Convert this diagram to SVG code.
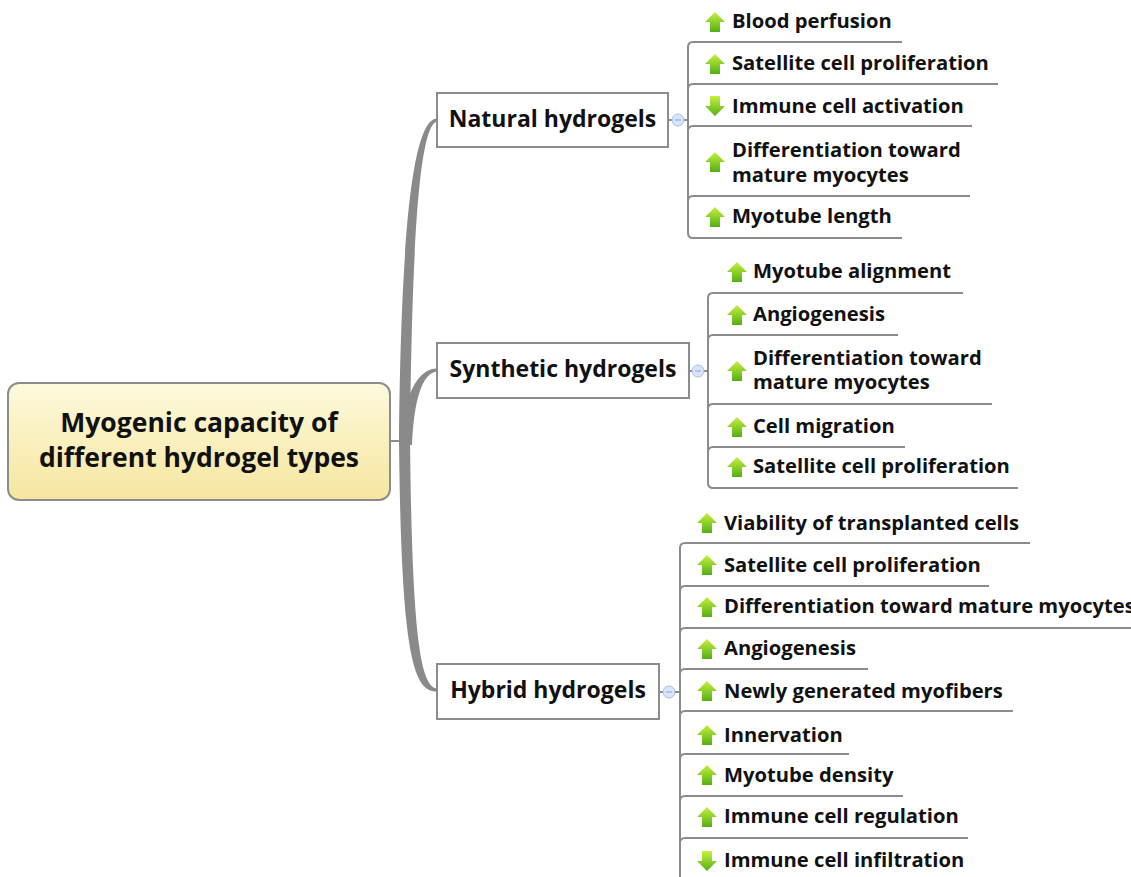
<svg xmlns="http://www.w3.org/2000/svg" width="1131" height="877" viewBox="0 0 1131 877">
<defs>
<linearGradient id="gCentral" x1="0" y1="0" x2="0" y2="1">
<stop offset="0" stop-color="#fdf9dc"/>
<stop offset="1" stop-color="#f6e6a0"/>
</linearGradient>
<linearGradient id="gArrow" x1="0" y1="0" x2="0" y2="1">
<stop offset="0" stop-color="#c6f040"/>
<stop offset="1" stop-color="#52b012"/>
</linearGradient>
<symbol id="up" viewBox="0 0 20 20">
<polygon points="10,0 20,10 15,10 15,20 5,20 5,10 0,10" fill="url(#gArrow)"/>
</symbol>
<symbol id="down" viewBox="0 0 20 20">
<polygon points="5,0 15,0 15,10 20,10 10,20 0,10 5,10" fill="url(#gArrow)"/>
</symbol>
</defs>
<style>
.box{fill:#ffffff;stroke:#8c8c8c;stroke-width:2}
.central{fill:url(#gCentral);stroke:#8c8c8c;stroke-width:2}
.ttl{font-family:"Open Sans","Liberation Sans",sans-serif;font-weight:bold;font-size:26.5px;fill:#111}
.lbl{font-family:"Open Sans","Liberation Sans",sans-serif;font-weight:bold;font-size:23px;fill:#111}
.leaf{font-family:"Open Sans","Liberation Sans",sans-serif;font-weight:bold;font-size:20.2px;fill:#111}
.ln{fill:none;stroke:#8c8c8c;stroke-width:2}
.trunk{fill:#8a8a8a;stroke:none}
.col{fill:#d8e5f8;stroke:#a6bfe8;stroke-width:1}
.colm{stroke:#88a6d6;stroke-width:1}
</style>

<g id="connectors">
<line class="ln" x1="390" y1="441" x2="402" y2="441"/>
<path class="trunk" d="M399,445 C401,220 414,119 437,118.5 L437,121.5 C421,125 412,220 410,445 Z"/>
<path class="trunk" d="M401,445 C403,395 418,368.5 437,368.5 L437,371.5 C422,373 414,400 412,445 Z"/>
<path class="trunk" d="M399,437 C401,660 414,691.5 437,691.5 L437,688.5 C421,686 412,640 410,437 Z"/>
<line class="ln" x1="668" y1="120" x2="688" y2="120"/>
<path class="ln" d="M902,42 L693,42 Q688,42 688,47 L688,233 Q688,238 693,238 L902,238"/>
<path class="ln" d="M688,89 Q688,84 693,84 L998,84"/>
<path class="ln" d="M688,131 Q688,126 693,126 L972,126"/>
<path class="ln" d="M688,201 Q688,196 693,196 L970,196"/>
<circle class="col" cx="678" cy="120" r="6"/>
<line class="colm" x1="675" y1="120" x2="681" y2="120"/>
<line class="ln" x1="689" y1="371" x2="708" y2="371"/>
<path class="ln" d="M963,293 L713,293 Q708,293 708,298 L708,483 Q708,488 713,488 L1018,488"/>
<path class="ln" d="M708,340 Q708,335 713,335 L898,335"/>
<path class="ln" d="M708,409 Q708,404 713,404 L992,404"/>
<path class="ln" d="M708,452 Q708,447 713,447 L905,447"/>
<circle class="col" cx="698" cy="371" r="6"/>
<line class="colm" x1="695" y1="371" x2="701" y2="371"/>
<line class="ln" x1="659" y1="692" x2="680" y2="692"/>
<path class="ln" d="M1030,543 L685,543 Q680,543 680,548 L680,880"/>
<path class="ln" d="M680,591 Q680,586 685,586 L989,586"/>
<path class="ln" d="M680,633 Q680,628 685,628 L1135,628"/>
<path class="ln" d="M680,674 Q680,669 685,669 L868,669"/>
<path class="ln" d="M680,716 Q680,711 685,711 L1013,711"/>
<path class="ln" d="M680,759 Q680,754 685,754 L849,754"/>
<path class="ln" d="M680,801 Q680,796 685,796 L903,796"/>
<path class="ln" d="M680,843 Q680,838 685,838 L968,838"/>
<circle class="col" cx="669" cy="692" r="6"/>
<line class="colm" x1="666" y1="692" x2="672" y2="692"/>
</g>

<g id="central">
<rect class="central" x="8" y="383" width="382" height="117" rx="11"/>
<text class="ttl" x="199" y="432" text-anchor="middle">Myogenic capacity of</text>
<text class="ttl" x="199" y="467" text-anchor="middle">different hydrogel types</text>
</g>

<g id="natural">
<rect class="box" x="437" y="93" width="231" height="54"/>
<text class="lbl" x="552.5" y="127" text-anchor="middle">Natural hydrogels</text>
</g>
<g id="synthetic">
<rect class="box" x="437" y="343" width="252" height="55"/>
<text class="lbl" x="563" y="377" text-anchor="middle">Synthetic hydrogels</text>
</g>
<g id="hybrid">
<rect class="box" x="437" y="664" width="222" height="55"/>
<text class="lbl" x="548" y="698" text-anchor="middle">Hybrid hydrogels</text>
</g>

<g id="n1"><use href="#up" x="705" y="12" width="20" height="20"/><text class="leaf" x="732" y="28">Blood perfusion</text></g>
<g id="n2"><use href="#up" x="705" y="54" width="20" height="20"/><text class="leaf" x="732" y="70">Satellite cell proliferation</text></g>
<g id="n3"><use href="#down" x="705" y="96" width="20" height="20"/><text class="leaf" x="732" y="113">Immune cell activation</text></g>
<g id="n4"><use href="#up" x="705" y="152" width="20" height="20"/><text class="leaf" x="732" y="157">Differentiation toward</text><text class="leaf" x="732" y="182">mature myocytes</text></g>
<g id="n5"><use href="#up" x="705" y="207" width="20" height="20"/><text class="leaf" x="732" y="223">Myotube length</text></g>

<g id="s1"><use href="#up" x="727" y="262" width="20" height="20"/><text class="leaf" x="753" y="278">Myotube alignment</text></g>
<g id="s2"><use href="#up" x="727" y="305" width="20" height="20"/><text class="leaf" x="753" y="321">Angiogenesis</text></g>
<g id="s3"><use href="#up" x="727" y="361" width="20" height="20"/><text class="leaf" x="753" y="365">Differentiation toward</text><text class="leaf" x="753" y="389">mature myocytes</text></g>
<g id="s4"><use href="#up" x="727" y="417" width="20" height="20"/><text class="leaf" x="753" y="433">Cell migration</text></g>
<g id="s5"><use href="#up" x="727" y="457" width="20" height="20"/><text class="leaf" x="753" y="473">Satellite cell proliferation</text></g>

<g id="h1"><use href="#up" x="697" y="513" width="20" height="20"/><text class="leaf" x="724" y="530">Viability of transplanted cells</text></g>
<g id="h2"><use href="#up" x="697" y="555" width="20" height="20"/><text class="leaf" x="724" y="572">Satellite cell proliferation</text></g>
<g id="h3"><use href="#up" x="697" y="597" width="20" height="20"/><text class="leaf" x="724" y="613">Differentiation toward mature myocytes</text></g>
<g id="h4"><use href="#up" x="697" y="639" width="20" height="20"/><text class="leaf" x="724" y="655">Angiogenesis</text></g>
<g id="h5"><use href="#up" x="697" y="681" width="20" height="20"/><text class="leaf" x="724" y="698">Newly generated myofibers</text></g>
<g id="h6"><use href="#up" x="697" y="725" width="20" height="20"/><text class="leaf" x="724" y="742">Innervation</text></g>
<g id="h7"><use href="#up" x="697" y="765" width="20" height="20"/><text class="leaf" x="724" y="782">Myotube density</text></g>
<g id="h8"><use href="#up" x="697" y="807" width="20" height="20"/><text class="leaf" x="724" y="823">Immune cell regulation</text></g>
<g id="h9"><use href="#down" x="697" y="851" width="20" height="20"/><text class="leaf" x="724" y="867">Immune cell infiltration</text></g>
</svg>
